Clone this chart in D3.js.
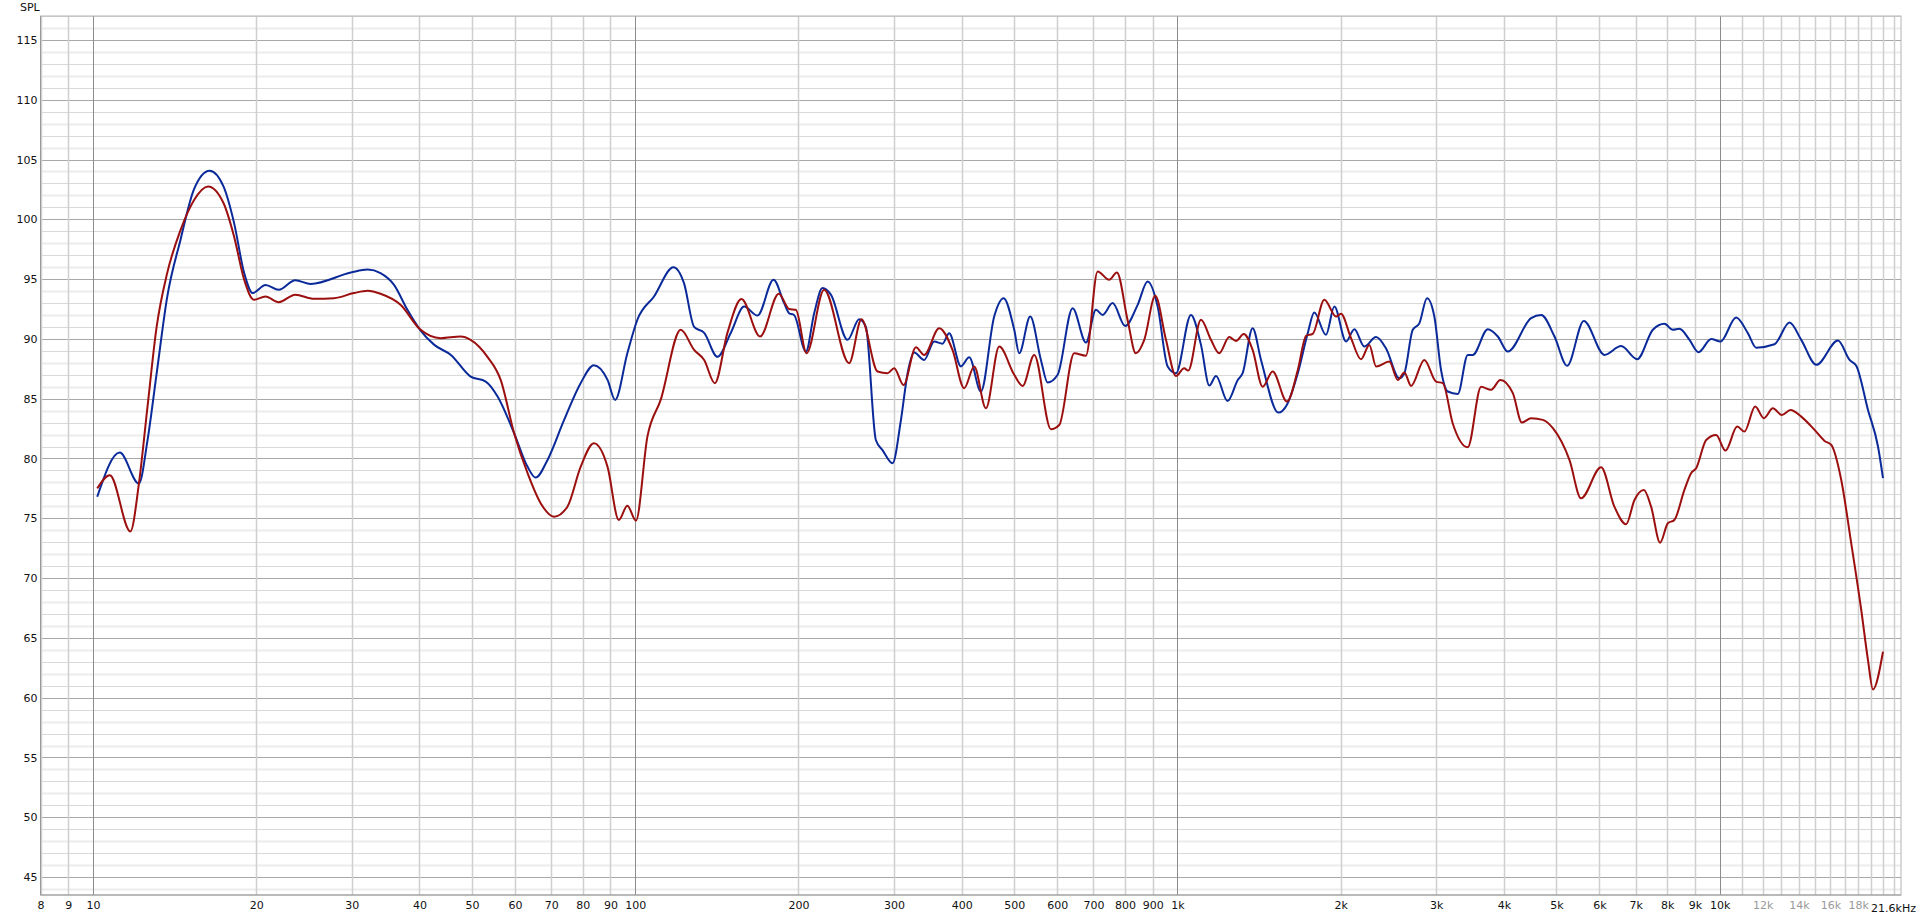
<!DOCTYPE html>
<html>
<head>
<meta charset="utf-8">
<script src="https://cdn.jsdelivr.net/npm/d3@7"></script>
<style>
  body { margin: 0; background: #fff; }
  svg text { font-family: "DejaVu Sans", Verdana, sans-serif; font-size: 11px; }
</style>
</head>
<body>
<div id="chart"></div>
<script>
// measurement 1 (blue)
let blueFreq = [10.18, 11.2, 12.15, 12.6, 13.1, 13.7, 14.5, 15.35, 16.4, 17.4, 18.2, 19.0, 19.7, 20.8, 22.0, 23.6, 25.2, 29.9, 32.1, 33.9, 35.9, 38.0, 40.1, 42.6, 45.7, 49.7, 53.0, 55.7, 59.8, 63.3, 65.5, 68.9, 73.9, 79.3, 83.9, 88.9, 91.8, 96.7, 100.9, 108.3, 117.6, 123, 128.4, 134, 141.8, 150, 158.8, 168.1, 179.9, 188.2, 192.2, 196.3, 206.4, 213.8, 221.5, 229.5, 246.4, 258.8, 266.3, 277.8, 285.8, 298.2, 309, 317.9, 326.9, 341.1, 355.9, 368.8, 379.3, 398.7, 413, 434, 459.2, 477.9, 500, 510.7, 535.1, 560, 576.1, 601.2, 640.7, 678, 707.4, 727.8, 759.3, 801.1, 844.5, 881.1, 919.4, 959.2, 993.6, 1059, 1105, 1145, 1178, 1237, 1292, 1319, 1376, 1426, 1535, 1592, 1667, 1739, 1788, 1879, 1947, 2046, 2120, 2211, 2324, 2425, 2566, 2621, 2716, 2793, 2886, 2977, 3063, 3151, 3289, 3431, 3504, 3736, 3898, 4067, 4490, 4686, 4959, 5233, 5616, 6131, 6581, 7045, 7530, 7910, 8198, 8430, 8798, 9141, 9646, 10035, 10725, 11272, 11677, 12621, 13455, 14141, 15074, 16527, 17362, 17862, 18774, 19590, 20010];
let blueSpl = [76.8, 80.5, 77.9, 81.5, 87.1, 93.5, 98.3, 102.5, 104.06, 102.75, 99.7, 95.5, 93.83, 94.5, 94.1, 94.9, 94.6, 95.55, 95.8, 95.5, 94.52, 92.43, 90.76, 89.5, 88.66, 86.85, 86.43, 85.2, 82.1, 79.3, 78.4, 79.88, 83.2, 86.3, 87.8, 86.57, 84.9, 88.8, 91.6, 93.55, 96.0, 94.66, 91.0, 90.5, 88.5, 90.5, 92.7, 91.95, 94.94, 92.99, 92.15, 92.0, 88.94, 92.15, 94.25, 93.7, 89.92, 91.65, 91.0, 81.55, 80.7, 79.6, 83.2, 87.13, 88.86, 88.24, 89.78, 89.6, 90.47, 87.7, 88.47, 85.6, 91.87, 93.4, 90.76, 88.8, 91.87, 88.24, 86.35, 87.0, 92.57, 89.7, 92.43, 92.0, 93.0, 91.07, 92.85, 94.8, 92.7, 87.7, 87.13, 92.0, 89.5, 86.1, 86.9, 84.8, 86.57, 87.13, 90.9, 88.24, 83.84, 84.5, 87.13, 90.48, 92.2, 90.34, 92.7, 89.78, 90.8, 89.36, 90.15, 89.2, 86.7, 87.13, 90.76, 91.3, 93.4, 91.87, 87.4, 85.6, 85.4, 88.66, 88.66, 90.8, 90.2, 88.94, 91.74, 92.0, 90.2, 87.75, 91.5, 88.66, 89.4, 88.3, 90.76, 91.26, 90.76, 90.84, 89.92, 88.89, 89.99, 89.78, 91.79, 90.48, 89.27, 89.55, 91.37, 89.92, 87.83, 89.86, 88.24, 87.75, 84.06, 81.0, 78.35];

// measurement 2 (red)
let redFreq = [10.18, 10.74, 11.72, 12.15, 12.6, 13.1, 13.7, 14.5, 15.35, 16.29, 17.4, 18.2, 19.0, 19.8, 20.8, 22.0, 23.6, 25.55, 27.82, 30.28, 32.1, 33.9, 36.9, 40.1, 43.77, 47.64, 49.7, 53.38, 56.47, 59.8, 63.3, 66.92, 70.83, 74.97, 79.3, 83.9, 88.9, 93.25, 96.7, 100.3, 105.3, 111.4, 121.3, 128.4, 134, 140.2, 147.9, 157, 169.9, 184, 192.2, 197.8, 207, 223, 248, 261.4, 279.9, 292, 300.3, 312.5, 329.3, 341.1, 363.5, 384.7, 404.3, 421.8, 443.4, 469.1, 500, 518.2, 544.3, 584.3, 605.3, 645, 678, 712.5, 748.4, 773.3, 809, 838, 868.5, 910, 952.4, 993.6, 1029, 1047, 1105, 1153, 1194, 1246, 1282, 1325, 1376, 1436, 1498, 1592, 1667, 1727, 1776, 1866, 1961, 2002, 2090, 2180, 2259, 2324, 2459, 2549, 2621, 2697, 2853, 2999, 3086, 3218, 3431, 3631, 3788, 3941, 4155, 4317, 4490, 4720, 4925, 5284, 5551, 6044, 6395, 6722, 6964, 7248, 7474, 7766, 8024, 8250, 8610, 8857, 9050, 9443, 9851, 10250, 10773, 11111, 11627, 12067, 12535, 13020, 13510, 14141, 14963, 15615, 16064, 16759, 17486, 18245, 18774, 19172, 20010];
let redSpl = [77.5, 78.6, 73.9, 77.9, 84.3, 91.0, 95.5, 99.1, 101.6, 102.75, 101.36, 98.57, 94.94, 93.27, 93.55, 93.07, 93.7, 93.35, 93.4, 93.83, 94.02, 93.77, 92.85, 90.8, 90.06, 90.2, 89.92, 88.5, 86.57, 82.1, 78.77, 76.26, 75.13, 75.97, 79.3, 81.27, 79.3, 74.86, 76.05, 74.8, 81.83, 84.9, 90.76, 89.08, 88.24, 86.3, 90.5, 93.33, 90.2, 93.77, 92.5, 92.43, 88.8, 94.1, 87.97, 91.65, 87.27, 87.13, 87.55, 86.15, 89.3, 88.66, 90.9, 89.08, 85.88, 87.7, 84.2, 89.36, 87.0, 86.07, 88.66, 82.45, 82.8, 88.8, 88.6, 95.64, 94.94, 95.55, 91.6, 88.8, 89.92, 93.6, 89.92, 86.9, 87.55, 87.35, 91.6, 89.92, 88.8, 90.15, 89.83, 90.4, 89.08, 86.0, 87.27, 84.76, 87.4, 90.26, 90.42, 93.27, 91.87, 92.1, 90.06, 88.3, 89.5, 87.7, 88.1, 86.57, 87.2, 86.07, 88.24, 86.43, 86.3, 82.95, 80.94, 86.0, 85.74, 86.57, 85.46, 83.0, 83.37, 83.23, 82.53, 79.88, 76.67, 79.27, 75.97, 74.5, 76.53, 77.37, 75.97, 72.96, 74.58, 74.86, 77.37, 78.77, 79.18, 81.55, 81.97, 80.66, 82.67, 82.25, 84.34, 83.37, 84.2, 83.64, 84.06, 83.5, 82.39, 81.47, 81.13, 78.2, 72.9, 67.33, 63.14, 60.69, 63.85];

// axis ticks
let yTicks = [45, 50, 55, 60, 65, 70, 75, 80, 85, 90, 95, 100, 105, 110, 115];
let xTickValues = [8, 9, 10, 20, 30, 40, 50, 60, 70, 80, 90, 100, 200, 300, 400, 500, 600, 700, 800, 900, 1000, 2000, 3000, 4000, 5000, 6000, 7000, 8000, 9000, 10000, 12000, 14000, 16000, 18000];
let xTickLabels = ["8", "9", "10", "20", "30", "40", "50", "60", "70", "80", "90", "100", "200", "300", "400", "500", "600", "700", "800", "900", "1k", "2k", "3k", "4k", "5k", "6k", "7k", "8k", "9k", "10k", "12k", "14k", "16k", "18k"];
let xEndLabel = "21.6kHz";

let svgWidth = 1920, svgHeight = 917;
let plotLeft = 40.5, plotRight = 1901, plotTop = 16, plotBottom = 895;

let xScale = d3.scaleLog().domain([8, 21600]).range([plotLeft, plotRight]);
let yScale = d3.scaleLinear().domain([43.5, 117]).range([plotBottom, plotTop]);

let svg = d3.select("#chart").append("svg")
  .attr("width", svgWidth)
  .attr("height", svgHeight);

//horizontal grid, every 1 dB, majors every 5
let hLines = d3.range(44, 118);
svg.append("g").selectAll("line")
  .data(hLines)
  .enter()
  .append("line")
  .attr("x1", plotLeft).attr("x2", plotRight)
  .attr("y1", d => Math.round(yScale(d)) + 0.5)
  .attr("y2", d => Math.round(yScale(d)) + 0.5)
  .attr("stroke", d => d % 5 == 0 ? "#a8a8a8" : (d % 2 == 0 ? "#ececec" : "#d9d9d9"))
  .attr("stroke-width", d => (d % 5 != 0 && d % 2 == 0) ? 2 : 1);

//vertical grid
let vLines = [];
[1, 10, 100, 1000].forEach(dec => {
  for (let m = 1; m < 10; m++) {
    let f = m * dec;
    if (f >= 8) vLines.push(f);
  }
});
vLines.push(10000);
for (let k = 11; k <= 21; k++) vLines.push(k * 1000);
let decades = [10, 100, 1000, 10000];

svg.append("g").selectAll("line")
  .data(vLines)
  .enter()
  .append("line")
  .attr("y1", plotTop).attr("y2", plotBottom)
  .attr("x1", d => Math.round(xScale(d)) + 0.5)
  .attr("x2", d => Math.round(xScale(d)) + 0.5)
  .attr("stroke", d => decades.includes(d) ? "#8c8c8c" : "#cfcfcf")
  .attr("stroke-width", d => decades.includes(d) ? 1 : 1.5);

//frame
svg.append("rect")
  .attr("x", plotLeft).attr("y", plotTop)
  .attr("width", plotRight - plotLeft).attr("height", plotBottom - plotTop)
  .attr("fill", "none")
  .attr("stroke", "#b4b4b4");
svg.append("line")
  .attr("x1", plotLeft).attr("x2", plotLeft).attr("y1", plotTop).attr("y2", plotBottom)
  .attr("stroke", "#999");
svg.append("line")
  .attr("x1", plotLeft).attr("x2", plotRight).attr("y1", plotBottom).attr("y2", plotBottom)
  .attr("stroke", "#999");

//axes, using d3 axes then restyling
let yAxis = d3.axisLeft(yScale).tickValues(yTicks).tickSize(0).tickPadding(3);
let gy = svg.append("g")
  .attr("transform", `translate(${plotLeft},0)`)
  .call(yAxis);
gy.select(".domain").remove();
gy.selectAll("text").style("font-family", "DejaVu Sans").style("font-size", "11px").style("fill", "#111");

let xAxis = d3.axisBottom(xScale).tickValues(xTickValues)
  .tickFormat((d, i) => xTickLabels[i]).tickSize(0).tickPadding(6);
let gx = svg.append("g")
  .attr("transform", `translate(0,${plotBottom})`)
  .call(xAxis);
gx.select(".domain").remove();
gx.selectAll("text")
  .style("font-family", "DejaVu Sans").style("font-size", "11px")
  .style("fill", d => (d > 10000) ? "#9a9a9a" : "#111");

svg.append("text")
  .attr("x", 1916).attr("y", plotBottom + 17)
  .attr("text-anchor", "end")
  .style("fill", "#111")
  .text(xEndLabel);

svg.append("text")
  .attr("x", 20).attr("y", 11)
  .style("fill", "#111")
  .text("SPL");

//curves
let line = d3.line()
  .x(d => xScale(d[0]))
  .y(d => yScale(d[1]))
  .curve(d3.curveMonotoneX);

let blueData = blueFreq.map((f, i) => [f, blueSpl[i]]);
let redData = redFreq.map((f, i) => [f, redSpl[i]]);

svg.append("path")
  .datum(blueData)
  .attr("d", line)
  .attr("fill", "none")
  .attr("stroke", "#0b2a9a")
  .attr("stroke-width", 2);

svg.append("path")
  .datum(redData)
  .attr("d", line)
  .attr("fill", "none")
  .attr("stroke", "#9c0f0f")
  .attr("stroke-width", 2);
</script>
</body>
</html>
